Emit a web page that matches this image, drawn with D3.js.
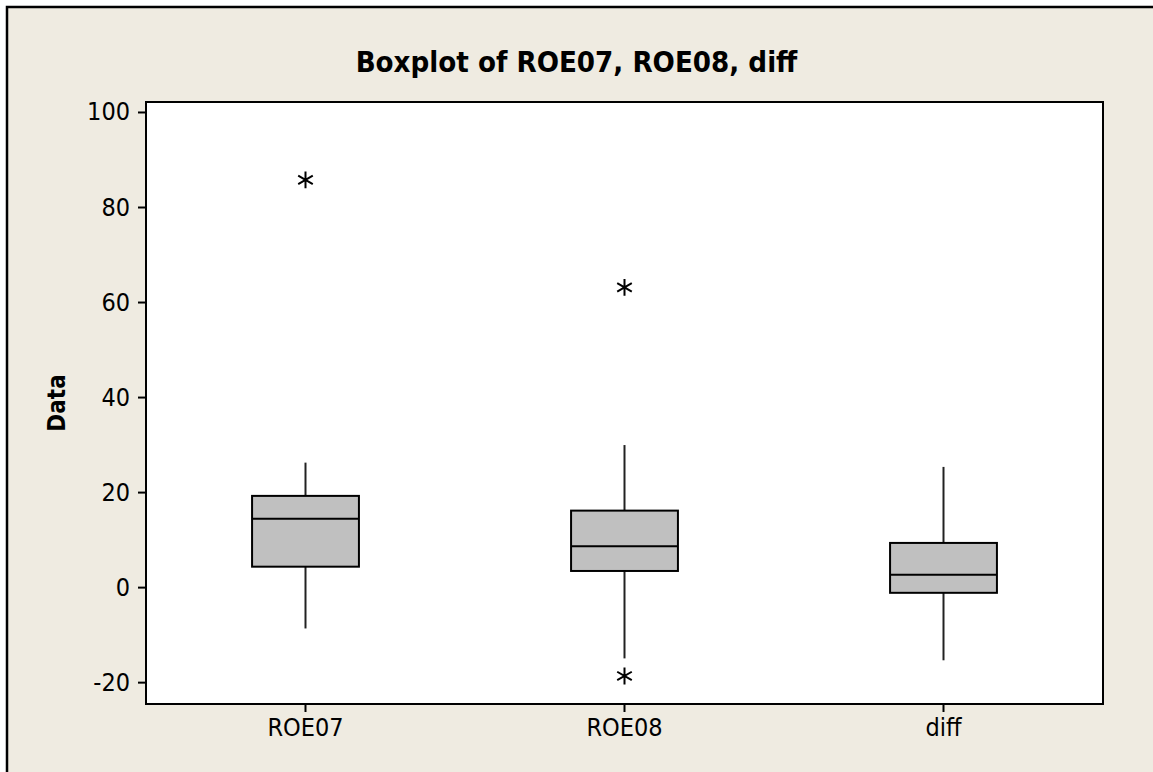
<!DOCTYPE html>
<meta charset="utf-8">
<style>
    body { margin: 0; background: #fff; }
    .tick text { font-family: "DejaVu Sans Condensed", "DejaVu Sans", sans-serif; font-size: 25px; fill: #000; }
    .tick line { stroke: #000; stroke-width: 2px; }
    .domain { display: none; }
</style>
<body>
<script src="https://d3js.org/d3.v7.min.js"></script>
<script>
    // data
    var categories = ["ROE07", "ROE08", "diff"];
    var whiskerLow = [-8.7, -15.0, -15.4];
    var q1 = [4.3, 3.4, -1.2];
    var median = [14.4, 8.6, 2.6];
    var q3 = [19.2, 16.1, 9.3];
    var whiskerHigh = [26.2, 29.9, 25.3];
    var outliers = [[85.7], [63.1, -18.7], []];
    var yTicks = [-20, 0, 20, 40, 60, 80, 100];

    var W = 1153, H = 772;
    var plot = { left: 146, top: 102, right: 1103, bottom: 704 };

    var svg = d3.select("body").append("svg")
        .attr("width", W)
        .attr("height", H);

    // outer frame
    svg.append("rect")
        .attr("x", 7).attr("y", 7)
        .attr("width", W + 20).attr("height", H + 20)
        .attr("fill", "#efebe1")
        .attr("stroke", "#000")
        .attr("stroke-width", 2.5);

    var x = d3.scaleBand().domain(categories).range([plot.left, plot.right]).padding(0);
    var y = d3.scaleLinear().domain([-24.6, 102.1]).range([plot.bottom, plot.top]);

    // plot area
    svg.append("rect")
        .attr("x", plot.left).attr("y", plot.top)
        .attr("width", plot.right - plot.left)
        .attr("height", plot.bottom - plot.top)
        .attr("fill", "#fff")
        .attr("stroke", "#000")
        .attr("stroke-width", 2);

    // axes
    svg.append("g")
        .attr("transform", "translate(" + (plot.left - 1) + ",0)")
        .call(d3.axisLeft(y).tickValues(yTicks).tickSize(7).tickPadding(8)
            .tickFormat(function(d) { return String(d); }));

    svg.append("g")
        .attr("transform", "translate(0," + (plot.bottom + 1) + ")")
        .call(d3.axisBottom(x).tickSize(7).tickPadding(6));

    // boxes
    var boxW = x.bandwidth() * 0.335;
    var groups = svg.append("g").selectAll("g")
        .data(categories)
        .enter().append("g");

    groups.each(function(c, i) {
        var g = d3.select(this);
        var cx = x(c) + x.bandwidth() / 2;

        g.append("line")
            .attr("x1", cx).attr("x2", cx)
            .attr("y1", y(whiskerHigh[i])).attr("y2", y(q3[i]))
            .attr("stroke", "#222").attr("stroke-width", 2);
        g.append("line")
            .attr("x1", cx).attr("x2", cx)
            .attr("y1", y(q1[i])).attr("y2", y(whiskerLow[i]))
            .attr("stroke", "#222").attr("stroke-width", 2);

        g.append("rect")
            .attr("x", cx - boxW / 2)
            .attr("y", y(q3[i]))
            .attr("width", boxW)
            .attr("height", y(q1[i]) - y(q3[i]))
            .attr("fill", "#c0c0c0")
            .attr("stroke", "#000")
            .attr("stroke-width", 2);

        g.append("line")
            .attr("x1", cx - boxW / 2).attr("x2", cx + boxW / 2)
            .attr("y1", y(median[i])).attr("y2", y(median[i]))
            .attr("stroke", "#000").attr("stroke-width", 2);

        g.selectAll("path.out")
            .data(outliers[i])
            .enter().append("path")
            .attr("class", "out")
            .attr("transform", function(d) { return "translate(" + cx + "," + y(d) + ")"; })
            .attr("d", d3.symbol().type(d3.symbolAsterisk).size(200))
            .attr("fill", "none")
            .attr("stroke", "#000")
            .attr("stroke-width", 2);
    });

    // title
    var title = svg.append("text")
        .attr("x", W / 2)
        .attr("y", 72)
        .attr("text-anchor", "middle")
        .style("font-family", '"DejaVu Sans Condensed", "DejaVu Sans", sans-serif')
        .style("font-weight", "bold")
        .style("font-size", "29px")
        .text("Boxplot of ROE07, ROE08, diff");
    var tw = title.node().getComputedTextLength();
    title.style("font-size", (29 * 442 / tw) + "px");

    // y label
    svg.append("text")
        .attr("transform", "translate(65," + ((plot.top + plot.bottom) / 2) + ") rotate(-90)")
        .attr("text-anchor", "middle")
        .style("font-family", '"DejaVu Sans Condensed", "DejaVu Sans", sans-serif')
        .style("font-weight", "bold")
        .style("font-size", "24px")
        .text("Data");
</script>
</body>
